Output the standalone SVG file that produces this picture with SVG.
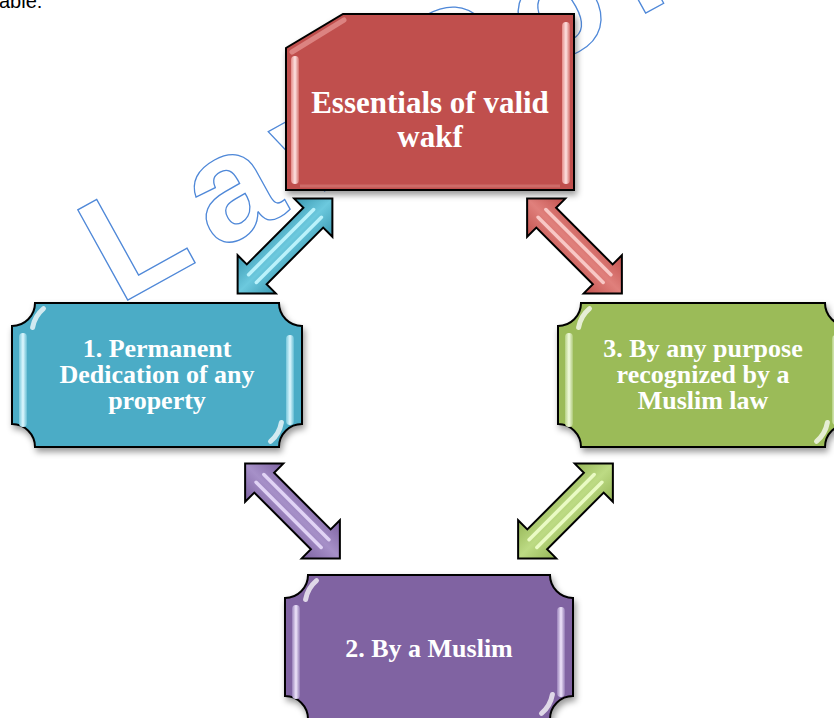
<svg xmlns="http://www.w3.org/2000/svg" width="834" height="718" viewBox="0 0 834 718">
  <defs>
    <style>
      .wm { font-family: "Liberation Sans", Arial, sans-serif; font-weight: bold; font-size: 150px; letter-spacing: 20px; fill: none; stroke: #4f88d8; stroke-width: 1.3; }
      .lbl { font-family: "Liberation Serif", "Times New Roman", serif; font-weight: bold; fill: #ffffff; text-anchor: middle; }
      .edge { stroke: #000000; stroke-width: 2; stroke-linejoin: miter; }
      .gloss { fill: none; stroke: #ffffff; stroke-width: 5; stroke-linecap: round; opacity: 0.75; }
      .stripe { fill: none; stroke-width: 3.5; stroke-linecap: round; opacity: 0.9; }
    </style>
    <filter id="shadow" x="-10%" y="-10%" width="125%" height="130%">
      <feDropShadow dx="2" dy="4" stdDeviation="3" flood-color="#000000" flood-opacity="0.4"/>
    </filter>
    <!-- bevel strips -->
    <linearGradient id="stripRed" x1="0" y1="0" x2="1" y2="0">
      <stop offset="0" stop-color="#e58c89"/><stop offset="0.5" stop-color="#fde3e2"/><stop offset="1" stop-color="#d4716d"/>
    </linearGradient>
    <linearGradient id="stripCyan" x1="0" y1="0" x2="1" y2="0">
      <stop offset="0" stop-color="#78c8dc"/><stop offset="0.5" stop-color="#dff8ff"/><stop offset="1" stop-color="#66bdd3"/>
    </linearGradient>
    <linearGradient id="stripGreen" x1="0" y1="0" x2="1" y2="0">
      <stop offset="0" stop-color="#b6d184"/><stop offset="0.5" stop-color="#f2fbe0"/><stop offset="1" stop-color="#adc977"/>
    </linearGradient>
    <linearGradient id="stripPurple" x1="0" y1="0" x2="1" y2="0">
      <stop offset="0" stop-color="#9a82bb"/><stop offset="0.5" stop-color="#efe6fb"/><stop offset="1" stop-color="#927ab4"/>
    </linearGradient>
    <!-- arrow body shading, across the shaft in local coordinates -->
    <linearGradient id="arCyan" gradientUnits="userSpaceOnUse" x1="0" y1="-27" x2="0" y2="27">
      <stop offset="0" stop-color="#3a98b1"/><stop offset="0.5" stop-color="#6cc9de"/><stop offset="1" stop-color="#3a98b1"/>
    </linearGradient>
    <linearGradient id="arRed" gradientUnits="userSpaceOnUse" x1="0" y1="-27" x2="0" y2="27">
      <stop offset="0" stop-color="#c2514d"/><stop offset="0.5" stop-color="#e0807c"/><stop offset="1" stop-color="#c2514d"/>
    </linearGradient>
    <linearGradient id="arPurple" gradientUnits="userSpaceOnUse" x1="0" y1="-27" x2="0" y2="27">
      <stop offset="0" stop-color="#7c61a0"/><stop offset="0.5" stop-color="#a690c8"/><stop offset="1" stop-color="#7c61a0"/>
    </linearGradient>
    <linearGradient id="arGreen" gradientUnits="userSpaceOnUse" x1="0" y1="-27" x2="0" y2="27">
      <stop offset="0" stop-color="#94b455"/><stop offset="0.5" stop-color="#bddb84"/><stop offset="1" stop-color="#94b455"/>
    </linearGradient>
    <!-- double-headed arrow along the x axis, centred on the origin -->
    <path id="dblArrow" d="M-67,0 L-40,-27 L-40,-14 L40,-14 L40,-27 L67,0 L40,27 L40,14 L-40,14 L-40,27 Z"/>
  </defs>

  <rect width="834" height="718" fill="#ffffff"/>

  <!-- page text cut by the top edge -->
  <text x="-1" y="8" font-family="Liberation Sans, Arial, sans-serif" font-size="20" fill="#000000">able:</text>

  <!-- watermark -->
  <g id="watermark">
    <text class="wm" transform="translate(119,305) rotate(-29)">LawCorner</text>
  </g>

  <!-- connectors -->
  <g id="connectors">
    <g id="arrow-top-left" transform="translate(285,246) rotate(-45)">
      <use href="#dblArrow" fill="url(#arCyan)" class="edge"/>
      <line class="stripe" stroke="#c4f7ff" x1="-46" y1="-5.5" x2="46" y2="-5.5"/>
      <line class="stripe" stroke="#c4f7ff" x1="-46" y1="5.5" x2="46" y2="5.5"/>
    </g>
    <g id="arrow-top-right" transform="translate(574.5,246) rotate(45)">
      <use href="#dblArrow" fill="url(#arRed)" class="edge"/>
      <line class="stripe" stroke="#fbd0ce" x1="-46" y1="-5.5" x2="46" y2="-5.5"/>
      <line class="stripe" stroke="#fbd0ce" x1="-46" y1="5.5" x2="46" y2="5.5"/>
    </g>
    <g id="arrow-bottom-left" transform="translate(292.5,511) rotate(45)">
      <use href="#dblArrow" fill="url(#arPurple)" class="edge"/>
      <line class="stripe" stroke="#e8dcfb" x1="-46" y1="-5.5" x2="46" y2="-5.5"/>
      <line class="stripe" stroke="#e8dcfb" x1="-46" y1="5.5" x2="46" y2="5.5"/>
    </g>
    <g id="arrow-bottom-right" transform="translate(565.5,511) rotate(-45)">
      <use href="#dblArrow" fill="url(#arGreen)" class="edge"/>
      <line class="stripe" stroke="#f0ffcc" x1="-46" y1="-5.5" x2="46" y2="-5.5"/>
      <line class="stripe" stroke="#f0ffcc" x1="-46" y1="5.5" x2="46" y2="5.5"/>
    </g>
  </g>

  <!-- central node -->
  <g id="node-essentials">
    <path d="M343,14 H574 V190 H286 V48 Z" fill="#c0504d" class="edge" filter="url(#shadow)"/>
    <path d="M292,52 L344,20" stroke="#e89a97" stroke-width="5" stroke-linecap="round" opacity="0.7"/>
    <rect x="291" y="56" width="8" height="128" rx="4" fill="url(#stripRed)"/>
    <rect x="562" y="22" width="8" height="162" rx="4" fill="url(#stripRed)"/>
    <line x1="300" y1="186" x2="560" y2="186" stroke="#d77e7b" stroke-width="3" opacity="0.6"/>
    <text class="lbl" font-size="31" x="430" y="113">Essentials of valid</text>
    <text class="lbl" font-size="31" x="430" y="147">wakf</text>
  </g>

  <!-- node 1 -->
  <g id="node-dedication">
    <path d="M35,303 H279 A23,23 0 0 0 302,326 V424 A23,23 0 0 0 279,447 H35 A23,23 0 0 0 12,424 V326 A23,23 0 0 0 35,303 Z" fill="#4bacc6" class="edge" filter="url(#shadow)"/>
    <rect x="19" y="333" width="8" height="94" rx="4" fill="url(#stripCyan)"/>
    <rect x="286" y="335" width="8" height="90" rx="4" fill="url(#stripCyan)"/>
    <path class="gloss" d="M43.5,308.6 A32,32 0 0 0 32.6,327.5"/>
    <path class="gloss" d="M270.5,441.4 A32,32 0 0 0 281.4,422.5"/>
    <text class="lbl" font-size="26" x="157" y="357">1. Permanent</text>
    <text class="lbl" font-size="26" x="157" y="383">Dedication of any</text>
    <text class="lbl" font-size="26" x="157" y="409">property</text>
  </g>

  <!-- node 3 -->
  <g id="node-purpose">
    <path d="M581,303 H825 A23,23 0 0 0 848,326 V424 A23,23 0 0 0 825,447 H581 A23,23 0 0 0 558,424 V326 A23,23 0 0 0 581,303 Z" fill="#9bbb59" class="edge" filter="url(#shadow)"/>
    <rect x="565" y="333" width="8" height="94" rx="4" fill="url(#stripGreen)"/>
    <rect x="832" y="335" width="8" height="90" rx="4" fill="url(#stripGreen)"/>
    <path class="gloss" d="M589.5,308.6 A32,32 0 0 0 578.6,327.5"/>
    <path class="gloss" d="M816.5,441.4 A32,32 0 0 0 827.4,422.5"/>
    <text class="lbl" font-size="26" x="703" y="357">3. By any purpose</text>
    <text class="lbl" font-size="26" x="703" y="383">recognized by a</text>
    <text class="lbl" font-size="26" x="703" y="409">Muslim law</text>
  </g>

  <!-- node 2 -->
  <g id="node-muslim">
    <path d="M308,575 H550 A23,23 0 0 0 573,598 V696 A23,23 0 0 0 550,719 H308 A23,23 0 0 0 285,696 V598 A23,23 0 0 0 308,575 Z" fill="#8064a2" class="edge" filter="url(#shadow)"/>
    <rect x="292" y="605" width="8" height="94" rx="4" fill="url(#stripPurple)"/>
    <rect x="557" y="607" width="8" height="90" rx="4" fill="url(#stripPurple)"/>
    <path class="gloss" d="M316.5,580.6 A32,32 0 0 0 305.6,599.5"/>
    <path class="gloss" d="M541.5,713.4 A32,32 0 0 0 552.4,694.5"/>
    <text class="lbl" font-size="26" x="429" y="657">2. By a Muslim</text>
  </g>
</svg>
